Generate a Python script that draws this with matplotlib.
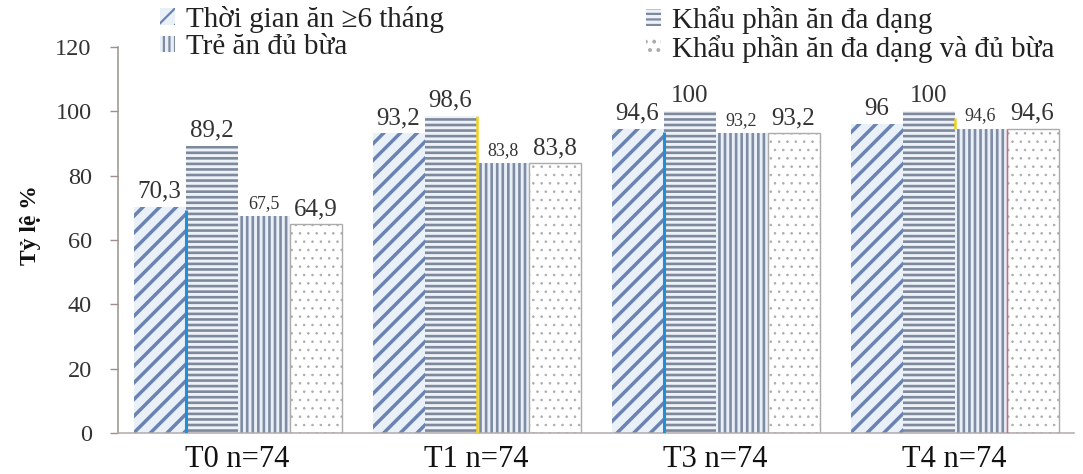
import numpy as np
import matplotlib
matplotlib.use("Agg")
import matplotlib.pyplot as plt
from matplotlib.patches import Patch

plt.rcParams['font.family'] = ['Liberation Serif', 'DejaVu Serif']

categories = ["T0 n=74", "T1 n=74", "T3 n=74", "T4 n=74"]
series_names = ["Thời gian ăn \u22656 tháng", "Khẩu phần ăn đa dạng",
                "Trẻ ăn đủ bừa", "Khẩu phần ăn đa dạng và đủ bừa"]
s_time = [70.3, 93.2, 94.6, 96]
s_diverse = [89.2, 98.6, 100, 100]
s_meals = [67.5, 83.8, 93.2, 94.6]
s_both = [64.9, 83.8, 93.2, 94.6]
yticks = [0, 20, 40, 60, 80, 100, 120]

fig = plt.figure(figsize=(10.83, 4.74), dpi=100)
ax = fig.add_axes([0.109, 0.0865, 0.8827, 0.8143])

x = np.arange(len(categories))
w = 0.2176
offs = np.array([-1.5, -0.5, 0.5, 1.5]) * w

styles = [
    dict(hatch='//', face='#eaf0f8', edge='#6a83b3', hlw=2.5),
    dict(hatch='---', face='#edf2f9', edge='#7f899c', hlw=1.9),
    dict(hatch='|||', face='#e9eff7', edge='#7f8ca4', hlw=1.9),
    dict(hatch='..', face='#ffffff', edge='#ababab', hlw=0.6),
]
data = [s_time, s_diverse, s_meals, s_both]
containers = []
for i, (vals, st) in enumerate(zip(data, styles)):
    plt.rcParams['hatch.linewidth'] = st['hlw']
    lw = 1.0 if i == 3 else 0
    bc = ax.bar(x + offs[i], vals, w, color=st['face'], edgecolor=st['edge'],
                hatch=st['hatch'], linewidth=lw, label=series_names[i], zorder=2)
    containers.append(bc)

def fmt(v):
    return f"{v:g}".replace('.', ',')

for i, (bc, vals) in enumerate(zip(containers, data)):
    fs = 13 if i == 2 else 18
    for rect, v in zip(bc, vals):
        ax.annotate(fmt(v), (rect.get_x() + rect.get_width() / 2, v),
                    xytext=(0, 3), textcoords='offset points',
                    ha='center', va='bottom', fontsize=fs, color='#333333')

# scan artifact colored edges
b0, b1, b2, b3 = containers
for k in (0, 2):
    r = b0[k]
    ax.plot([r.get_x() + r.get_width()] * 2, [0, s_time[k] - 1], color='#1f8fd8',
            lw=2.2, zorder=3, solid_capstyle='butt')
r = b1[1]
ax.plot([r.get_x() + r.get_width()] * 2, [0, s_diverse[1]], color='#f2d21a',
        lw=1.8, zorder=3, solid_capstyle='butt')
r = b1[3]
ax.plot([r.get_x() + r.get_width()] * 2, [s_meals[3], s_diverse[3] - 2], color='#f2d21a',
        lw=1.8, zorder=3, solid_capstyle='butt')
r = b2[3]
ax.plot([r.get_x() + r.get_width()] * 2, [0, s_meals[3]], color='#e0607a',
        lw=1.0, zorder=3, solid_capstyle='butt')

ax.set_xlim(-0.5, len(categories) - 0.5)
ax.set_ylim(0, 120)
ax.set_yticks(yticks)
ax.set_yticklabels([str(t) for t in yticks])
ax.set_xticks(x)
ax.set_xticklabels(categories)

for s in ('top', 'right'):
    ax.spines[s].set_visible(False)
ax.spines['left'].set_color('#9c918c')
ax.spines['left'].set_linewidth(1.1)
ax.spines['bottom'].set_color('#b3aaaa')
ax.spines['bottom'].set_linewidth(1.1)

ax.tick_params(axis='y', length=6, width=1.0, color='#9c918c', pad=13,
               labelsize=17.5, labelcolor='#333333')
ax.tick_params(axis='x', length=0, pad=9, labelsize=22, labelcolor='#111111')

ax.set_ylabel("Tỷ lệ %", fontsize=17, fontweight='bold', color='#111111')
ax.yaxis.set_label_coords(-0.081, 0.54)

# legends (two columns placed separately)
def handle(i):
    st = styles[i]
    return Patch(facecolor=st['face'], edgecolor=st['edge'], hatch=st['hatch'],
                 linewidth=0)

plt.rcParams['hatch.linewidth'] = 1.6
leg_kw = dict(frameon=False, fontsize=21, handlelength=0.5, handleheight=0.5,
              handletextpad=0.4, labelspacing=0.05, borderpad=0, borderaxespad=0,
              loc='upper left')
l1 = fig.legend([handle(0), handle(2)], [series_names[0], series_names[2]],
                bbox_to_anchor=(160 / 1083, 1 - 6 / 474), **leg_kw)
l2 = fig.legend([handle(1), handle(3)], [series_names[1], series_names[3]],
                bbox_to_anchor=(646 / 1083, 1 - 6 / 474), **leg_kw)
for leg in (l1, l2):
    for t in leg.get_texts():
        t.set_color('#222222')

fig.savefig("out.png", dpi=100)
